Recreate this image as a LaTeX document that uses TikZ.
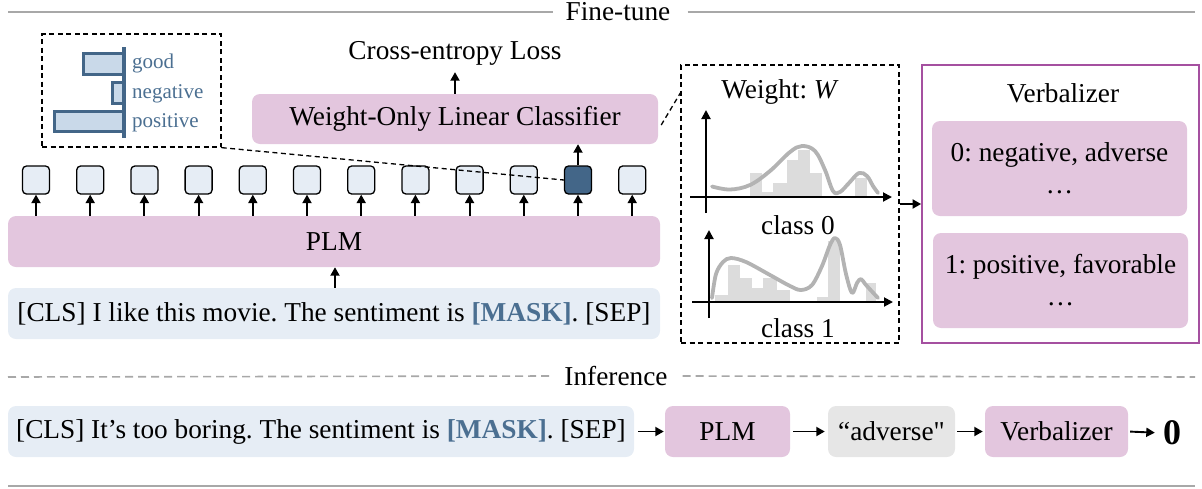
\documentclass[tikz,border=0pt]{standalone}
\usepackage{fontspec}
\setmainfont{Liberation Serif}
\newfontfamily\rawserif{Liberation Serif}
\usetikzlibrary{arrows.meta,calc}
\definecolor{lilac}{HTML}{E3C6DE}
\definecolor{paleblue}{HTML}{E6EDF5}
\definecolor{steel}{HTML}{436688}
\definecolor{maskblue}{HTML}{4B6F91}
\definecolor{barfill}{HTML}{C9D9E9}
\definecolor{rulegray}{HTML}{A8A8A8}
\definecolor{curvegray}{HTML}{B3B3B3}
\definecolor{bargray}{HTML}{DCDCDC}
\definecolor{verbpurple}{HTML}{A550A0}
\definecolor{wordgray}{HTML}{E6E6E6}
\frenchspacing
\begin{document}
\begin{tikzpicture}[x=1pt,y=-1pt,
  every node/.style={font=\fontsize{27.3}{32}\selectfont, inner sep=0pt},
  arr/.style={-{Triangle[length=8.5pt,width=9pt]}, line width=1.9pt},
  axis/.style={-{Triangle[length=9pt,width=9pt]}, line width=1.9pt},
  lilacbox/.style={fill=lilac, rounded corners=8pt},
  bluebox/.style={fill=paleblue, rounded corners=8pt},
  graybox/.style={fill=wordgray, rounded corners=8pt},
  tokenbox/.style={draw, line width=1.3pt, rounded corners=4pt, minimum width=27pt, minimum height=28pt},
  dashbox/.style={draw, line width=1.3pt, dash pattern=on 5pt off 3.5pt},
  rule/.style={draw=rulegray, line width=2.5pt},
  dashrule/.style={draw=rulegray, line width=1.6pt, dash pattern=on 8pt off 5pt},
  bar/.style={fill=barfill, draw=steel, line width=3pt},
  hist/.style={fill=bargray},
  density/.style={draw=curvegray, line width=3.8pt, line cap=round, line join=round},
  barlabel/.style={font=\fontsize{21}{24}\selectfont, text=maskblue, anchor=base west},
]
\useasboundingbox (0,0) rectangle (1202,488);

% ---------- section rules ----------
\node (ft) at (618,12) {Fine-tune};
\coordinate (ftl) at (8,12);
\coordinate (ftr) at (1195,12);
\draw[rule] (ftl) -- ([xshift=-12pt]ft.west);
\draw[rule] ([xshift=17pt]ft.east) -- (ftr);

\node (inf) at (616,376) {Inference};
\coordinate (infl) at (8,377);
\coordinate (infr) at (1195,377);
\draw[dashrule] (infl) -- ([xshift=-11pt]inf.west);
\draw[dashrule] ([xshift=15pt]inf.east) -- (infr);

\coordinate (bl) at (8,486);
\coordinate (br) at (1195,486);
\draw[rule] (bl) -- (br);

% ---------- fine-tune: encoder ----------
\node[bluebox, minimum width=652pt, minimum height=51pt] (sent) at (334,313.5)
  {[CLS] I like this movie. The sentiment is \textcolor{maskblue}{\textbf{[MASK]}}. [SEP]};
\node[lilacbox, minimum width=652pt, minimum height=51pt] (plm) at (334,241.5) {PLM};
\draw[arr] (sent.north -| 335,0) -- (plm.south -| 335,0);

\foreach \i in {0,...,11}{
  \ifnum\i=10 \def\tokfill{steel}\else\def\tokfill{paleblue}\fi
  \node[tokenbox, fill=\tokfill] (t\i) at ({36+54.2*\i},180) {};
  \draw[arr] (plm.north -| t\i) -- (t\i.south);
}

\node[lilacbox, minimum width=406pt, minimum height=50pt] (cls) at (455,119) {Weight-Only Linear Classifier};
\node (loss) at (455,53) {Cross-entropy Loss};
\draw[arr] (t10.north) -- (t10.north |- cls.south);
\draw[arr, shorten >=7pt] (cls.north) -- (loss.south);

% ---------- word-score inset ----------
\node[dashbox, minimum width=179pt, minimum height=113pt] (wb) at (131.5,90.5) {};
\draw[bar] (83,53) rectangle (124,74);
\draw[bar] (112,82) rectangle (124,103);
\draw[bar] (54,111) rectangle (124,131);
\draw[steel, line width=3.5pt] (124,47) -- (124,138);
\node[barlabel] (wgood) at (132,68) {good};
\node[barlabel] (wneg) at (132,98) {negative};
\node[barlabel] (wpos) at (132,127) {positive};
\draw[dashbox] (wb.south east) -- (t10.west);

% ---------- weight distributions ----------
\node[dashbox, minimum width=218pt, minimum height=278pt] (wbox) at (790,204) {};
\draw[dashbox] ($(cls.east)+(3,6)$) -- ($(wbox.north west)+(1,27)$);
\node (wlab) at (780,92) {Weight: \textit{W}};

% class 0
\fill[hist] (750,197) rectangle (761.7,173.3);
\fill[hist] (761.7,197) rectangle (773.3,191.7);
\fill[hist] (773.3,197) rectangle (786.7,183.3);
\fill[hist] (786.7,197) rectangle (798.3,160);
\fill[hist] (798.3,197) rectangle (810,150);
\fill[hist] (810,197) rectangle (821.7,173.3);
\fill[hist] (855,197) rectangle (866.7,178.3);
\coordinate (a0o) at (706,213);
\coordinate (a0y) at (706,110);
\coordinate (a0l) at (690,197);
\coordinate (a0x) at (892,197);
\draw[axis] (a0o) -- (a0y);
\draw[axis] (a0l) -- (a0x);
\draw[density] plot[smooth, tension=0.6] coordinates {(712,186.5) (730,189.5) (750,185) (770,171) (790,152) (802,146) (815,151) (825,170) (833,191) (840,192) (849,183) (859,173) (867,176) (873,186) (878,193)};
\node (c0) at (798,225) {class 0};

% class 1
\fill[hist] (715,302) rectangle (728,295);
\fill[hist] (728,302) rectangle (740,265);
\fill[hist] (740,302) rectangle (752,278);
\fill[hist] (752,302) rectangle (763,288);
\fill[hist] (763,302) rectangle (777,278);
\fill[hist] (777,302) rectangle (790,290);
\fill[hist] (817,302) rectangle (828,297);
\fill[hist] (828,302) rectangle (840,241);
\fill[hist] (866,302) rectangle (876,283);
\coordinate (a1o) at (709,318);
\coordinate (a1y) at (709,230);
\coordinate (a1l) at (692,302);
\coordinate (a1x) at (893,302);
\draw[axis] (a1o) -- (a1y);
\draw[axis] (a1l) -- (a1x);
\draw[density] plot[smooth, tension=0.55] coordinates {(712,298) (716,274) (723,262) (731,258) (746,262) (770,275) (790,286) (801,290) (812,285) (822,266) (830,245) (835,238) (840,245) (846,274) (852,293) (857,283) (861,279) (866,285) (878,298)};
\node (c1) at (798,328) {class 1};

% ---------- verbalizer ----------
\node[draw=verbpurple, line width=1.8pt, minimum width=277pt, minimum height=278pt] (verb) at (1060.5,204) {};
\node (vlab) at (1063,93) {Verbalizer};
\node[lilacbox, minimum width=255pt, minimum height=95pt, align=center] (v0) at (1059.5,168.5) {0: negative, adverse\\…};
\node[lilacbox, minimum width=255pt, minimum height=95pt, align=center] (v1) at (1060.5,280.5) {1: positive, favorable\\…};
\draw[arr] (wbox.east) -- (verb.west);

% ---------- inference ----------
\node[bluebox, minimum width=626pt, minimum height=51pt] (isent) at (321,431.5)
  {[CLS] It’s too boring. The sentiment is \textcolor{maskblue}{\textbf{[MASK]}}. [SEP]};
\node[lilacbox, minimum width=125pt, minimum height=51pt] (iplm) at (727.5,431.5) {PLM};
\node[graybox, minimum width=127pt, minimum height=51pt] (adv) at (891.5,431.5) {“adverse{\rawserif"}};
\node[lilacbox, minimum width=143pt, minimum height=51pt] (iverb) at (1056.5,431.5) {Verbalizer};
\node[font=\fontsize{36}{40}\selectfont\bfseries] (zero) at (1172,433) {0};
\draw[arr, shorten <=4pt, shorten >=1pt] (isent.east) -- (iplm.west);
\draw[arr, shorten <=3pt, shorten >=3pt] (iplm.east) -- (adv.west);
\draw[arr, shorten <=2pt, shorten >=2pt] (adv.east) -- (iverb.west);
\draw[arr, shorten <=2pt, shorten >=8pt] (iverb.east) -- (zero.west);
\end{tikzpicture}
\end{document}
